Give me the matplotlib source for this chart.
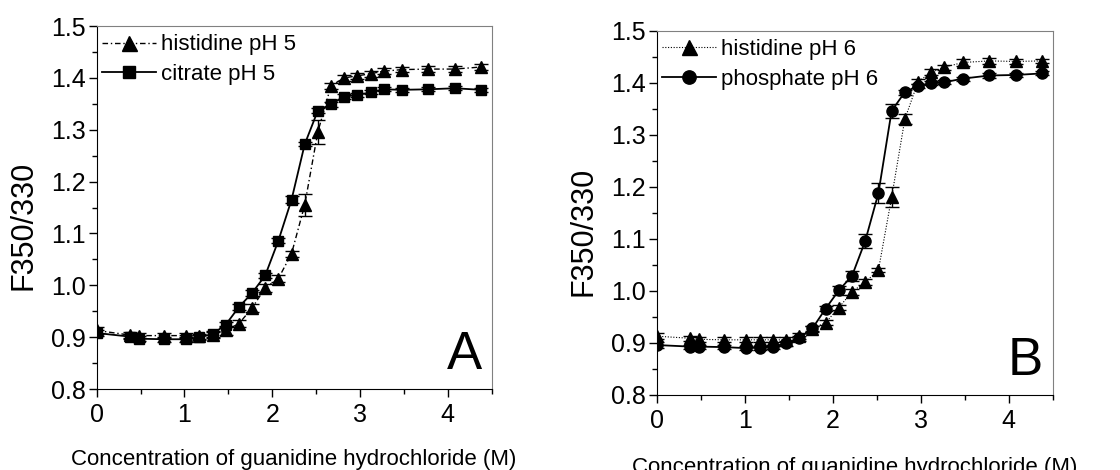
import matplotlib
matplotlib.use('Agg')
import matplotlib.pyplot as plt
from matplotlib.ticker import MultipleLocator, FormatStrFormatter

plt.rcParams['font.family'] = ['Liberation Sans', 'DejaVu Sans']

# GdnHCl concentration (M), same series for all four samples
conc = [0, 0.38, 0.48, 0.77, 1.02, 1.17, 1.32, 1.47, 1.62, 1.77, 1.92, 2.07,
        2.22, 2.37, 2.52, 2.67, 2.82, 2.97, 3.12, 3.27, 3.48, 3.78, 4.08, 4.38]

# pH 5 samples
his5 = [0.913, 0.904, 0.903, 0.903, 0.903, 0.902, 0.904, 0.913, 0.926, 0.956, 0.995, 1.013,
        1.061, 1.155, 1.296, 1.385, 1.400, 1.404, 1.408, 1.413, 1.416, 1.417, 1.417, 1.421]
his5_err = [0.006, 0.005, 0.005, 0.005, 0.005, 0.005, 0.006, 0.008, 0.007, 0.007, 0.008, 0.006,
            0.006, 0.022, 0.023, 0.006, 0.006, 0.006, 0.006, 0.006, 0.005, 0.005, 0.005, 0.006]
cit5 = [0.908, 0.901, 0.897, 0.896, 0.896, 0.900, 0.906, 0.924, 0.958, 0.985, 1.019, 1.086,
        1.165, 1.272, 1.337, 1.349, 1.364, 1.367, 1.372, 1.378, 1.377, 1.378, 1.380, 1.377]
cit5_err = [0.006, 0.005, 0.005, 0.005, 0.005, 0.005, 0.005, 0.005, 0.005, 0.005, 0.005, 0.005,
            0.007, 0.004, 0.004, 0.005, 0.004, 0.004, 0.004, 0.004, 0.004, 0.004, 0.004, 0.004]

# pH 6 samples
his6 = [0.913, 0.909, 0.907, 0.906, 0.906, 0.906, 0.906, 0.906, 0.913, 0.927, 0.939, 0.968,
        0.998, 1.017, 1.040, 1.180, 1.330, 1.402, 1.420, 1.430, 1.439, 1.442, 1.441, 1.442]
his6_err = [0.006, 0.005, 0.005, 0.005, 0.005, 0.005, 0.005, 0.005, 0.006, 0.006, 0.005, 0.005,
            0.006, 0.005, 0.004, 0.019, 0.010, 0.005, 0.006, 0.005, 0.006, 0.006, 0.004, 0.004]
phos6 = [0.896, 0.893, 0.893, 0.892, 0.890, 0.891, 0.893, 0.899, 0.909, 0.928, 0.966, 1.001,
         1.029, 1.096, 1.188, 1.346, 1.382, 1.394, 1.399, 1.401, 1.408, 1.414, 1.415, 1.418]
phos6_err = [0.005, 0.004, 0.004, 0.004, 0.004, 0.004, 0.004, 0.004, 0.005, 0.005, 0.005, 0.009,
             0.010, 0.013, 0.020, 0.013, 0.005, 0.004, 0.004, 0.004, 0.004, 0.004, 0.004, 0.004]


def style_axes(ax, letter, xlabel_y):
    '''axis ranges, ticks, frame, labels and panel letter'''
    ax.set_xlim(0, 4.5)
    ax.set_ylim(0.8, 1.5)
    ax.xaxis.set_major_locator(MultipleLocator(1))
    ax.xaxis.set_minor_locator(MultipleLocator(0.5))
    ax.yaxis.set_major_locator(MultipleLocator(0.1))
    ax.yaxis.set_minor_locator(MultipleLocator(0.05))
    ax.xaxis.set_major_formatter(FormatStrFormatter('%d'))
    ax.yaxis.set_major_formatter(FormatStrFormatter('%.1f'))
    ax.tick_params(which='major', direction='out', length=6, width=1, labelsize=18)
    ax.tick_params(which='minor', direction='out', length=3.5, width=1)
    ax.tick_params(axis='x', which='major', pad=4)
    ax.tick_params(axis='y', which='major', pad=1.5)
    ax.tick_params(top=False, right=False)
    for side in ['top', 'right']:
        ax.spines[side].set_color('#808080')
    for side in ['left', 'bottom']:
        ax.spines[side].set_color('black')
    ax.set_xlabel('Concentration of guanidine hydrochloride (M)', fontsize=16)
    ax.set_ylabel('F350/330', fontsize=22)
    ax.xaxis.set_label_coords(0.5, xlabel_y)
    ax.yaxis.set_label_coords(-0.146, 0.45)
    ax.text(0.975, 0.055, letter, transform=ax.transAxes, fontsize=38,
            ha='right', va='baseline')
    ax.legend(loc='upper left', bbox_to_anchor=(0.0056, 0.986), frameon=False,
              fontsize=16, handlelength=2.4, handletextpad=0.25, labelspacing=0.38,
              borderaxespad=0, borderpad=0.15, numpoints=1, markerscale=1.2)


def plot_series(ax, y, err, marker, ms, ls, lw, label):
    # error bars first, then the line with markers (which also feeds the legend)
    ax.errorbar(conc, y, yerr=err, fmt='none', ecolor='black', elinewidth=1,
                capsize=5, capthick=1)
    ax.plot(conc, y, color='black', marker=marker, markersize=ms,
            linestyle=ls, linewidth=lw, label=label)


fig = plt.figure(figsize=(11.2, 4.7), dpi=100)
ax1 = fig.add_axes([0.0863, 0.1723, 0.3527, 0.7723])
ax2 = fig.add_axes([0.5863, 0.1596, 0.3536, 0.775])

# panel A: pH 5
plot_series(ax1, his5, his5_err, '^', 9, (0, (4, 2, 1, 2)), 1.0, 'histidine pH 5')
plot_series(ax1, cit5, cit5_err, 's', 7.5, '-', 1.3, 'citrate pH 5')
style_axes(ax1, 'A', -0.165)

# panel B: pH 6
plot_series(ax2, his6, his6_err, '^', 9, (0, (1, 1.5)), 0.8, 'histidine pH 6')
plot_series(ax2, phos6, phos6_err, 'o', 8, '-', 1.3, 'phosphate pH 6')
style_axes(ax2, 'B', -0.171)

fig.savefig('out.png', dpi=100)
